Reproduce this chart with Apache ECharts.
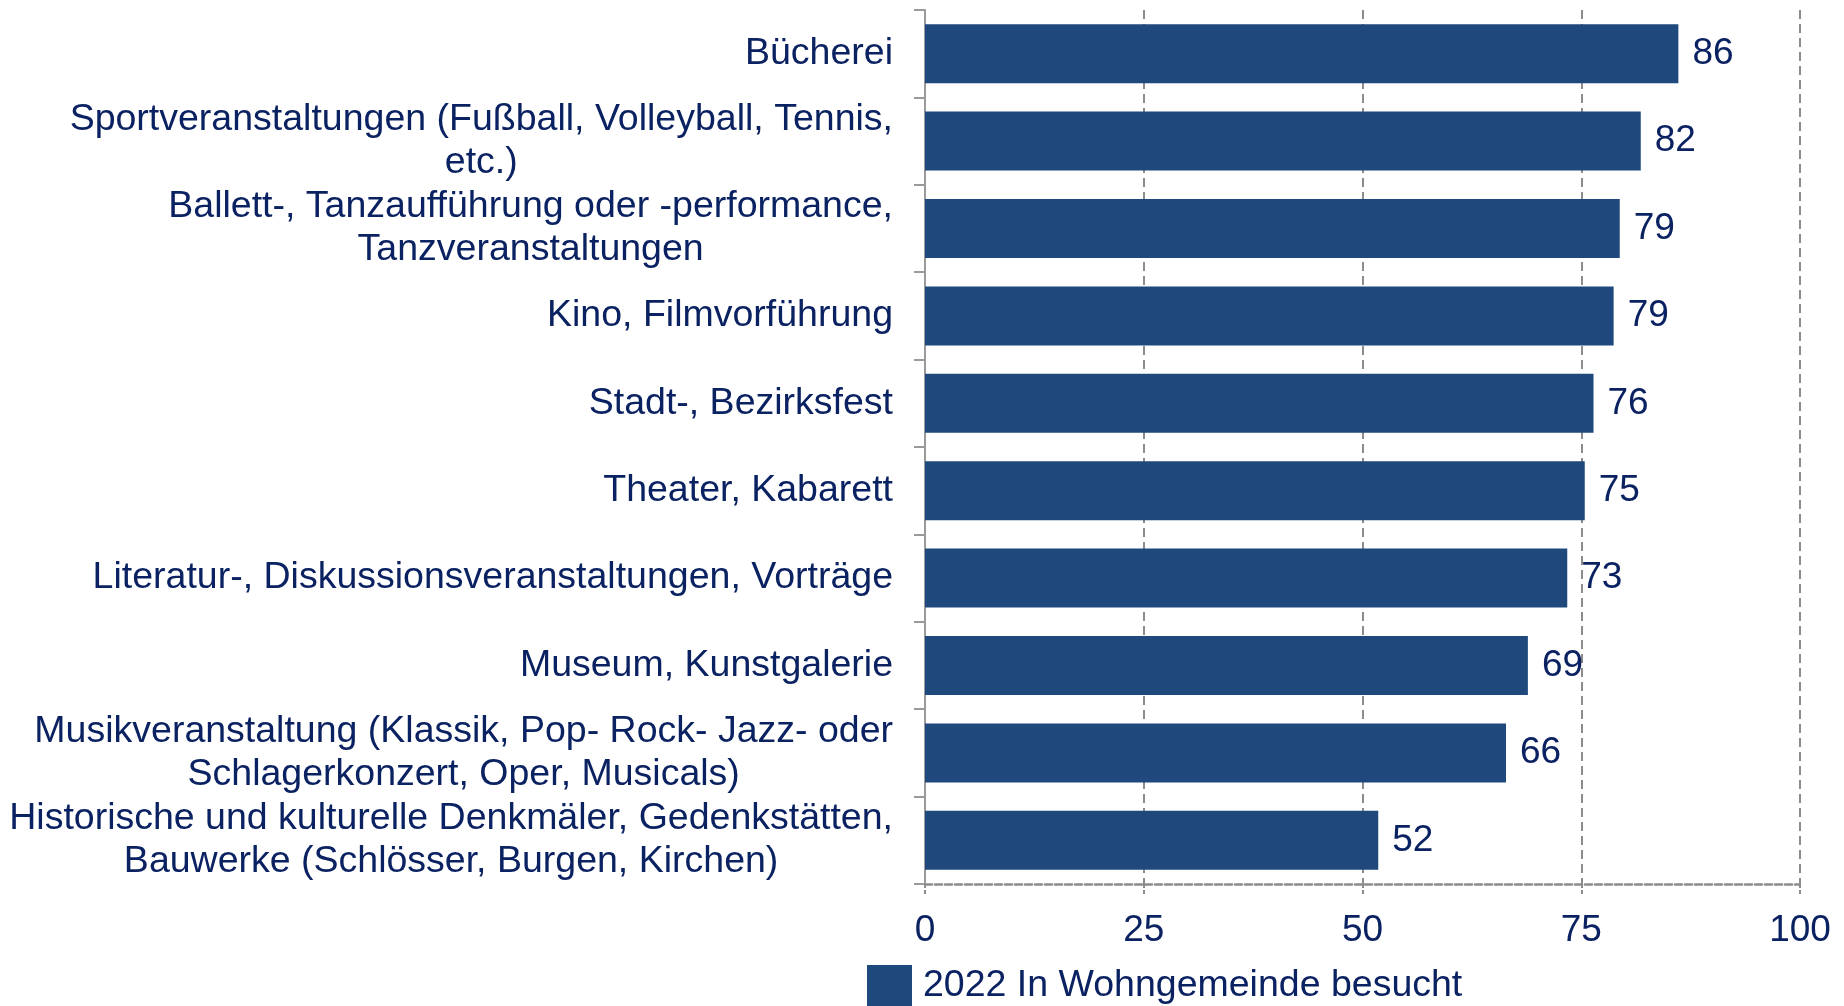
<!DOCTYPE html>
<html>
<head>
<meta charset="utf-8">
<script src="https://cdn.jsdelivr.net/npm/echarts@6/dist/echarts.min.js"></script>
<style>
    html, body { margin: 0; padding: 0; background: #fff; }
    #chart { width: 1844px; height: 1006px; }
</style>
</head>
<body>
<div id="chart"></div>
<script>
// Categories, top to bottom
const categories = [
    'Bücherei',
    'Sportveranstaltungen (Fußball, Volleyball, Tennis,\netc.)',
    'Ballett-, Tanzaufführung oder -performance,\nTanzveranstaltungen',
    'Kino, Filmvorführung',
    'Stadt-, Bezirksfest',
    'Theater, Kabarett',
    'Literatur-, Diskussionsveranstaltungen, Vorträge',
    'Museum, Kunstgalerie',
    'Musikveranstaltung (Klassik, Pop- Rock- Jazz- oder\nSchlagerkonzert, Oper, Musicals)',
    'Historische und kulturelle Denkmäler, Gedenkstätten,\nBauwerke (Schlösser, Burgen, Kirchen)'
];

// Share visited in own municipality (%)
const visited = [86.1, 81.8, 79.4, 78.7, 76.4, 75.4, 73.4, 68.9, 66.4, 51.8];

const xTicks = [0, 25, 50, 75, 100];
const seriesName = '2022 In Wohngemeinde besucht';

const textColor = '#0b2262';
const barColor = '#1f497d';
const gridGray = '#8c8c8c';
const fontFamily = '"Liberation Sans", Arial, sans-serif';
const fontSize = 37;

const chart = echarts.init(document.getElementById('chart'));

chart.setOption({
    animation: false,
    textStyle: { fontFamily: fontFamily },
    grid: {
        left: 925,
        right: 44,
        top: 10,
        bottom: 122,
        containLabel: false
    },
    legend: {
        data: [seriesName],
        left: 862,
        top: 960,
        icon: 'rect',
        itemWidth: 45,
        itemHeight: 42,
        itemGap: 16,
        textStyle: { color: textColor, fontSize: 37.5, fontFamily: fontFamily, padding: [0, 0, 0, 6] }
    },
    xAxis: {
        type: 'value',
        min: xTicks[0],
        max: xTicks[xTicks.length - 1],
        interval: 25,
        axisLine: {
            show: true,
            lineStyle: { color: gridGray, width: 2.5, type: [7, 3] }
        },
        axisTick: {
            show: true,
            length: 10,
            lineStyle: { color: gridGray, width: 2, type: [4, 2] }
        },
        axisLabel: {
            color: textColor,
            fontSize: fontSize,
            margin: 28,
            fontFamily: fontFamily
        },
        splitLine: {
            show: true,
            lineStyle: { color: gridGray, width: 2, type: [9, 5] }
        }
    },
    yAxis: {
        type: 'category',
        inverse: true,
        data: categories,
        axisLine: {
            show: true,
            lineStyle: { color: '#9a9a9a', width: 2 }
        },
        axisTick: {
            show: true,
            length: 11,
            lineStyle: { color: '#9a9a9a', width: 2 }
        },
        axisLabel: {
            margin: 32,
            color: textColor,
            fontSize: 37.5,
            lineHeight: 43,
            fontFamily: fontFamily,
            formatter: function (value) {
                return value.split('\n').map(function (line) {
                    return '{c|' + line + '}';
                }).join('\n');
            },
            rich: {
                c: {
                    align: 'center',
                    color: textColor,
                    fontSize: 37.5,
                    lineHeight: 43,
                    fontFamily: fontFamily
                }
            }
        }
    },
    series: [{
        name: seriesName,
        type: 'bar',
        data: visited,
        barWidth: 59,
        itemStyle: { color: barColor },
        label: {
            show: true,
            position: 'right',
            distance: 14,
            color: textColor,
            fontSize: fontSize,
            fontFamily: fontFamily,
            formatter: function (p) {
                return Math.round(p.value);
            }
        }
    }]
});
</script>
</body>
</html>
